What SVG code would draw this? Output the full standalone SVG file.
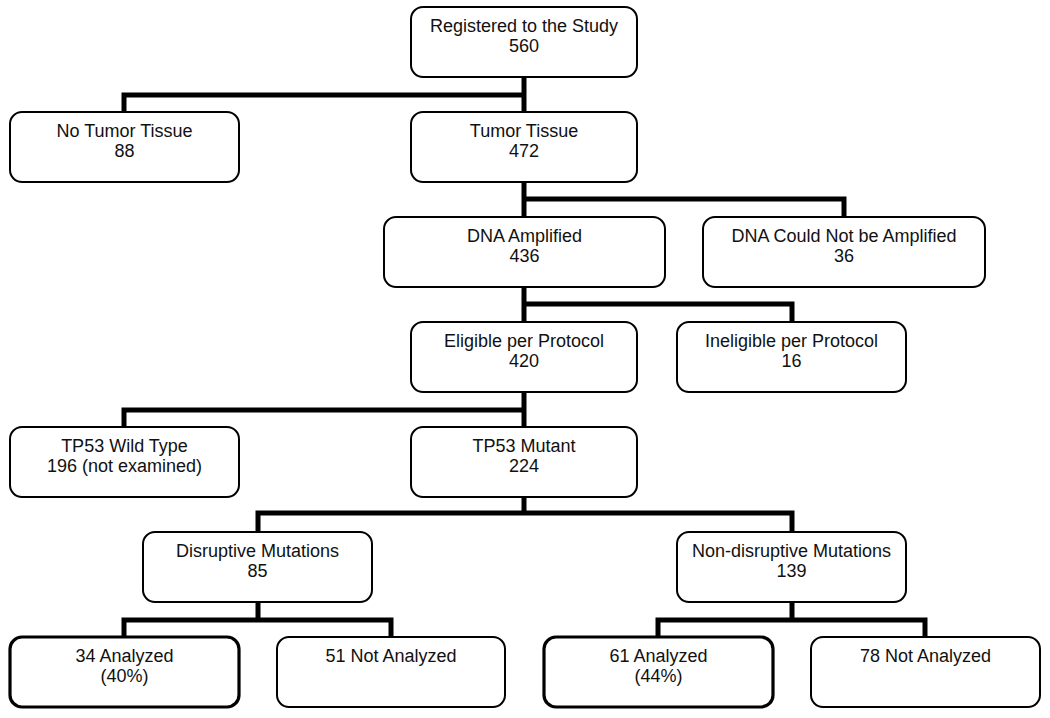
<svg xmlns="http://www.w3.org/2000/svg" width="1050" height="718" viewBox="0 0 1050 718">
<style>
.box{fill:#fff;stroke:#000;stroke-width:2}
.bold{stroke-width:3.2}
.lbl{font-family:"Liberation Sans",Arial,sans-serif;font-size:18px;fill:#111;text-anchor:middle}
.conn{fill:none;stroke:#000;stroke-width:5;stroke-linejoin:miter;stroke-linecap:butt}
</style>
<rect width="1050" height="718" fill="#fff"/>
<g id="connectors" class="conn">
<path d="M524,77 V112 M124,112 V95 H526.5"/>
<path d="M524,182 V217 M521.5,199 H844 V217"/>
<path d="M524,287 V322 M521.5,304 H792 V322"/>
<path d="M524,392 V427 M124,427 V410 H526.5"/>
<path d="M524,497 V515.5 M258,532 V513 H792 V532"/>
<path d="M258,602 V622.5 M124,637 V620 H391 V637"/>
<path d="M792,602 V622.5 M658,637 V620 H925 V637"/>
</g>
<g id="registered"><rect class="box" x="411" y="7" width="226" height="70" rx="12"/><text class="lbl" x="524" y="32">Registered to the Study</text><text class="lbl" x="524" y="52">560</text></g>
<g id="no-tumor"><rect class="box" x="10" y="112" width="229" height="70" rx="12"/><text class="lbl" x="124.5" y="137">No Tumor Tissue</text><text class="lbl" x="124.5" y="157">88</text></g>
<g id="tumor"><rect class="box" x="411" y="112" width="226" height="70" rx="12"/><text class="lbl" x="524" y="137">Tumor Tissue</text><text class="lbl" x="524" y="157">472</text></g>
<g id="dna-amplified"><rect class="box" x="384" y="217" width="281" height="70" rx="12"/><text class="lbl" x="524.5" y="242">DNA Amplified</text><text class="lbl" x="524.5" y="262">436</text></g>
<g id="dna-not"><rect class="box" x="703" y="217" width="282" height="70" rx="12"/><text class="lbl" x="844" y="242">DNA Could Not be Amplified</text><text class="lbl" x="844" y="262">36</text></g>
<g id="eligible"><rect class="box" x="411" y="322" width="226" height="70" rx="12"/><text class="lbl" x="524" y="347">Eligible per Protocol</text><text class="lbl" x="524" y="367">420</text></g>
<g id="ineligible"><rect class="box" x="677" y="322" width="229" height="70" rx="12"/><text class="lbl" x="791.5" y="347">Ineligible per Protocol</text><text class="lbl" x="791.5" y="367">16</text></g>
<g id="wild-type"><rect class="box" x="10" y="427" width="229" height="70" rx="12"/><text class="lbl" x="124.5" y="452">TP53 Wild Type</text><text class="lbl" x="124.5" y="472">196 (not examined)</text></g>
<g id="mutant"><rect class="box" x="411" y="427" width="226" height="70" rx="12"/><text class="lbl" x="524" y="452">TP53 Mutant</text><text class="lbl" x="524" y="472">224</text></g>
<g id="disruptive"><rect class="box" x="143" y="532" width="229" height="70" rx="12"/><text class="lbl" x="257.5" y="557">Disruptive Mutations</text><text class="lbl" x="257.5" y="577">85</text></g>
<g id="non-disruptive"><rect class="box" x="677" y="532" width="229" height="70" rx="12"/><text class="lbl" x="791.5" y="557">Non-disruptive Mutations</text><text class="lbl" x="791.5" y="577">139</text></g>
<g id="analyzed-34"><rect class="box bold" x="10" y="637" width="229" height="70" rx="12"/><text class="lbl" x="124.5" y="662">34 Analyzed</text><text class="lbl" x="124.5" y="682">(40%)</text></g>
<g id="not-analyzed-51"><rect class="box" x="277" y="637" width="228" height="70" rx="12"/><text class="lbl" x="391" y="662">51 Not Analyzed</text></g>
<g id="analyzed-61"><rect class="box bold" x="544" y="637" width="229" height="70" rx="12"/><text class="lbl" x="658.5" y="662">61 Analyzed</text><text class="lbl" x="658.5" y="682">(44%)</text></g>
<g id="not-analyzed-78"><rect class="box" x="811" y="637" width="229" height="70" rx="12"/><text class="lbl" x="925.5" y="662">78 Not Analyzed</text></g>
</svg>
